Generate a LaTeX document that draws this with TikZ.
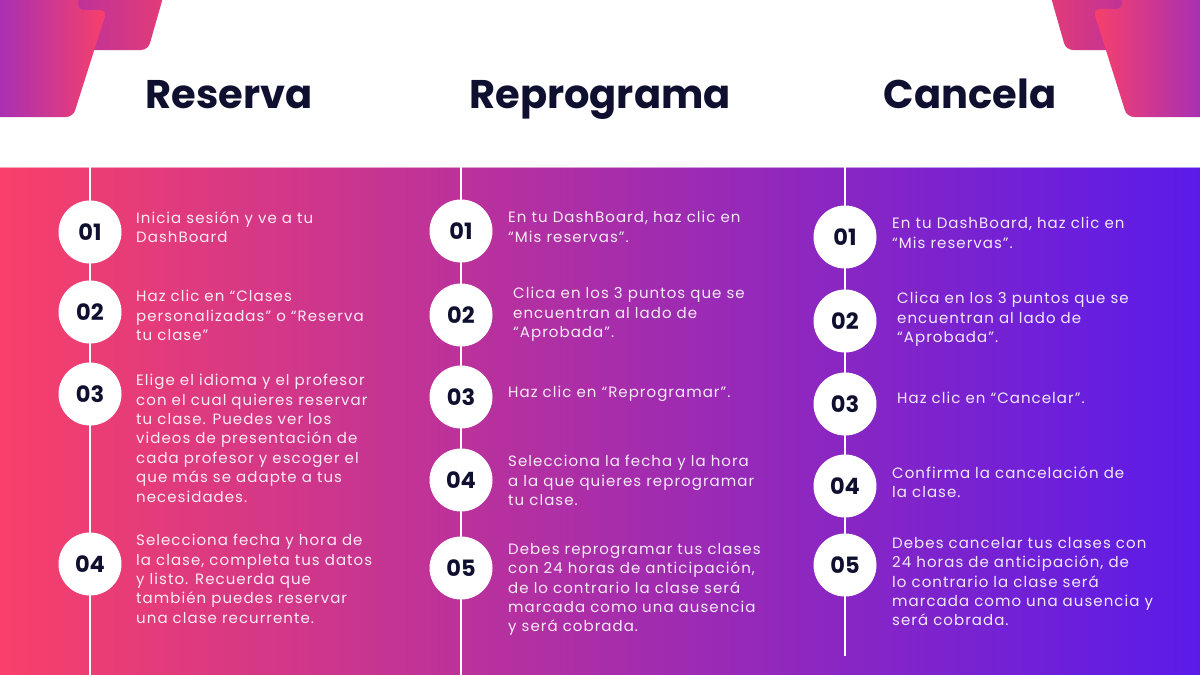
\documentclass[tikz,border=0pt]{standalone}
\usepackage{fontspec}
\setmainfont{Poppins}
\newfontfamily\bodyfont[LetterSpace=7]{Poppins}
\definecolor{bandL}{HTML}{F8406A}
\definecolor{bandM}{HTML}{A82CB0}
\definecolor{bandR}{HTML}{5A1BE9}
\definecolor{navy}{HTML}{0F1030}
\definecolor{flA}{HTML}{9A2DC0}
\definecolor{flB}{HTML}{F8406A}
\definecolor{blA}{HTML}{B8309F}
\definecolor{blB}{HTML}{E43C77}
\begin{document}
\begin{tikzpicture}[x=1pt,y=-1pt,
  stepnum/.style={circle, fill=white, minimum size=63, inner sep=0,
    font=\bfseries\fontsize{22.5}{22.5}\selectfont, text=navy},
  desc/.style={anchor=north west, inner sep=0, align=left, text=white,
    text opacity=0.9, font=\bodyfont\fontsize{15}{19.4}\selectfont},
  ttl/.style={anchor=base, inner sep=0, text=navy,
    font=\bfseries\fontsize{40}{40}\selectfont},
  vline/.style={draw=white, line width=2.5}]
\useasboundingbox (0,0) rectangle (1200,675);
\fill[white] (0,0) rectangle (1200,675);
% corner shapes
\begin{scope}
\clip (0,0) rectangle (1200,675);
\shade[left color=blA, right color=blB, rounded corners=7]
  (70,-20) -- (168,-20) -- (148,50) -- (60,50) -- cycle;
\shade[left color=flA, right color=flB, rounded corners=7]
  (-20,-20) -- (81,-20) -- (77,10) -- (107,10) -- (73,117) -- (-20,117) -- cycle;
\shade[left color=blB, right color=blA, rounded corners=7]
  (1046,-20) -- (1140,-20) -- (1140,50) -- (1066,50) -- cycle;
\shade[left color=flB, right color=flA, rounded corners=7]
  (1220,-20) -- (1119,-20) -- (1123,9) -- (1093,9) -- (1127,117) -- (1220,117) -- cycle;
\end{scope}
% band
\shade[left color=bandL, middle color=bandM, right color=bandR] (0,167) rectangle (1200,675);
\draw[white, opacity=0.55, line width=1.2] (0,167.5) -- (1200,167.5);
% titles
\node[ttl] (t1) at (229,108) {Reserva};
\node[ttl] (t2) at (600,108) {Reprograma};
\node[ttl] (t3) at (970,108) {Cancela};
% spines
\coordinate (Ltop) at (90,167);  \coordinate (Lbot) at (90,675);
\coordinate (Mtop) at (461,167); \coordinate (Mbot) at (461,675);
\coordinate (Rtop) at (845,167); \coordinate (Rbot) at (845,656);
\draw[vline] (Ltop) -- (Lbot);
\draw[vline] (Mtop) -- (Mbot);
\draw[vline] (Rtop) -- (Rbot);
% left column
\node[stepnum] (L1) at (90,232) {01};
\node[stepnum] (L2) at (90,312) {02};
\node[stepnum] (L3) at (90,394) {03};
\node[stepnum] (L4) at (90,564) {04};
\node[desc] (Ld1) at (136,211) {Inicia sesión y ve a tu\\DashBoard};
\node[desc] (Ld2) at (136,290) {Haz clic en “Clases\\personalizadas” o “Reserva\\tu clase”};
\node[desc] (Ld3) at (136,374) {Elige el idioma y el profesor\\con el cual quieres reservar\\tu clase. Puedes ver los\\videos de presentación de\\cada profesor y escoger el\\que más se adapte a tus\\necesidades.};
\node[desc] (Ld4) at (136,534) {Selecciona fecha y hora de\\la clase, completa tus datos\\y listo. Recuerda que\\también puedes reservar\\una clase recurrente.};
% middle column
\node[stepnum] (M1) at (461,231) {01};
\node[stepnum] (M2) at (461,315) {02};
\node[stepnum] (M3) at (461,397) {03};
\node[stepnum] (M4) at (461,480) {04};
\node[stepnum] (M5) at (461,568) {05};
\node[desc] (Md1) at (508,211) {En tu DashBoard, haz clic en\\“Mis reservas”.};
\node[desc] (Md2) at (513,287) {Clica en los 3 puntos que se\\encuentran al lado de\\“Aprobada”.};
\node[desc] (Md3) at (508,386) {Haz clic en “Reprogramar”.};
\node[desc] (Md4) at (508,455) {Selecciona la fecha y la hora\\a la que quieres reprogramar\\tu clase.};
\node[desc] (Md5) at (508,543) {Debes reprogramar tus clases\\con 24 horas de anticipación,\\de lo contrario la clase será\\marcada como una ausencia\\y será cobrada.};
% right column
\node[stepnum] (R1) at (845,237) {01};
\node[stepnum] (R2) at (845,321) {02};
\node[stepnum] (R3) at (845,404) {03};
\node[stepnum] (R4) at (845,486) {04};
\node[stepnum] (R5) at (845,565) {05};
\node[desc] (Rd1) at (892,217) {En tu DashBoard, haz clic en\\“Mis reservas”.};
\node[desc] (Rd2) at (897,292) {Clica en los 3 puntos que se\\encuentran al lado de\\“Aprobada”.};
\node[desc] (Rd3) at (897,392) {Haz clic en “Cancelar”.};
\node[desc] (Rd4) at (892,466) {Confirma la cancelación de\\la clase.};
\node[desc] (Rd5) at (892,537) {Debes cancelar tus clases con\\24 horas de anticipación, de\\lo contrario la clase será\\marcada como una ausencia y\\será cobrada.};
\end{tikzpicture}
\end{document}
